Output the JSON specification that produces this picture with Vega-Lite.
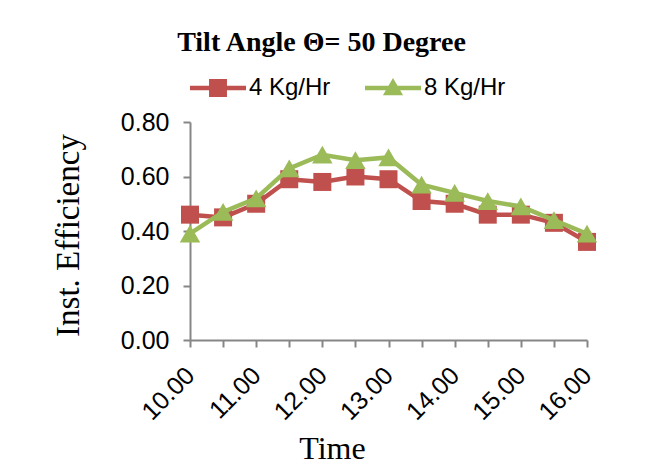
{
  "$schema": "https://vega.github.io/schema/vega-lite/v6.json",
  "width": 397,
  "height": 218,
  "autosize": {"type": "none"},
  "padding": {"left": 190, "top": 122, "right": 81, "bottom": 131},
  "background": "white",
  "config": {"view": {"stroke": null}, "font": "Liberation Sans"},
  "title": {
    "text": "Tilt Angle Θ= 50 Degree",
    "font": "Liberation Serif",
    "fontSize": 28,
    "fontWeight": "bold",
    "color": "black",
    "anchor": "middle",
    "frame": "group",
    "dx": -67,
    "offset": 3
  },
  "data": {
    "values": [
      {"time": 10.0, "series": "4 Kg/Hr", "eff": 0.46},
      {"time": 10.5, "series": "4 Kg/Hr", "eff": 0.45},
      {"time": 11.0, "series": "4 Kg/Hr", "eff": 0.50},
      {"time": 11.5, "series": "4 Kg/Hr", "eff": 0.59},
      {"time": 12.0, "series": "4 Kg/Hr", "eff": 0.58},
      {"time": 12.5, "series": "4 Kg/Hr", "eff": 0.60},
      {"time": 13.0, "series": "4 Kg/Hr", "eff": 0.59},
      {"time": 13.5, "series": "4 Kg/Hr", "eff": 0.51},
      {"time": 14.0, "series": "4 Kg/Hr", "eff": 0.50},
      {"time": 14.5, "series": "4 Kg/Hr", "eff": 0.46},
      {"time": 15.0, "series": "4 Kg/Hr", "eff": 0.46},
      {"time": 15.5, "series": "4 Kg/Hr", "eff": 0.43},
      {"time": 16.0, "series": "4 Kg/Hr", "eff": 0.36},
      {"time": 10.0, "series": "8 Kg/Hr", "eff": 0.39},
      {"time": 10.5, "series": "8 Kg/Hr", "eff": 0.47},
      {"time": 11.0, "series": "8 Kg/Hr", "eff": 0.52},
      {"time": 11.5, "series": "8 Kg/Hr", "eff": 0.63},
      {"time": 12.0, "series": "8 Kg/Hr", "eff": 0.68},
      {"time": 12.5, "series": "8 Kg/Hr", "eff": 0.66},
      {"time": 13.0, "series": "8 Kg/Hr", "eff": 0.67},
      {"time": 13.5, "series": "8 Kg/Hr", "eff": 0.57},
      {"time": 14.0, "series": "8 Kg/Hr", "eff": 0.54},
      {"time": 14.5, "series": "8 Kg/Hr", "eff": 0.51},
      {"time": 15.0, "series": "8 Kg/Hr", "eff": 0.49},
      {"time": 15.5, "series": "8 Kg/Hr", "eff": 0.44},
      {"time": 16.0, "series": "8 Kg/Hr", "eff": 0.39}
    ]
  },
  "encoding": {
    "x": {
      "field": "time",
      "type": "quantitative",
      "scale": {"domain": [10, 16], "nice": false, "zero": false},
      "axis": {
        "title": "Time",
        "titleFont": "Liberation Serif",
        "titleFontSize": 32,
        "titleFontWeight": "normal",
        "titleColor": "black",
        "titleX": 142,
        "titleY": 118,
        "titleAlign": "center",
        "titleBaseline": "alphabetic",
        "values": [10, 10.5, 11, 11.5, 12, 12.5, 13, 13.5, 14, 14.5, 15, 15.5, 16],
        "labelExpr": "datum.value % 1 === 0 ? format(datum.value, '.2f') : ''",
        "labelAngle": -45,
        "labelAlign": "right",
        "labelBaseline": "middle",
        "labelFontSize": 25,
        "labelColor": "black",
        "labelOverlap": false,
        "labelFlush": false,
        "labelPadding": 24,
        "grid": false,
        "domainColor": "#868686",
        "domainWidth": 2,
        "tickColor": "#868686",
        "tickWidth": 2,
        "tickSize": 7
      }
    },
    "y": {
      "field": "eff",
      "type": "quantitative",
      "scale": {"domain": [0, 0.8], "nice": false},
      "axis": {
        "title": "Inst. Efficiency",
        "titleFont": "Liberation Serif",
        "titleFontSize": 33,
        "titleFontWeight": "normal",
        "titleColor": "black",
        "titleX": -122,
        "titleY": 113,
        "titleAlign": "center",
        "titleBaseline": "middle",
        "titleAngle": -90,
        "values": [0, 0.2, 0.4, 0.6, 0.8],
        "format": ".2f",
        "labelFontSize": 25,
        "labelColor": "black",
        "labelPadding": 14,
        "grid": false,
        "domainColor": "#868686",
        "domainWidth": 2,
        "tickColor": "#868686",
        "tickWidth": 2,
        "tickSize": 7
      }
    },
    "color": {
      "field": "series",
      "type": "nominal",
      "scale": {"domain": ["4 Kg/Hr", "8 Kg/Hr"], "range": ["#C0504D", "#9BBB59"]},
      "legend": {
        "title": null,
        "orient": "none",
        "direction": "horizontal",
        "legendX": 0,
        "legendY": -62,
        "padding": 0,
        "symbolSize": 3136,
        "labelFontSize": 24,
        "labelColor": "black",
        "labelOffset": 3,
        "columnPadding": 34,
        "encode": {
          "symbols": {
            "update": {
              "shape": {"signal": "datum.value === '4 Kg/Hr' ? 'M-1,-0.08H1V0.08H-1Z M-0.32,-0.32H0.32V0.32H-0.32Z' : 'M-1,-0.08H1V0.08H-1Z M0,-0.36L0.36,0.26H-0.36Z'"},
              "fill": {"signal": "datum.value === '4 Kg/Hr' ? '#C0504D' : '#9BBB59'"},
              "fillOpacity": {"value": 1},
              "strokeWidth": {"value": 0}
            }
          }
        }
      }
    }
  },
  "layer": [
    {
      "transform": [{"filter": "datum.series === '4 Kg/Hr'"}],
      "mark": {"type": "line", "strokeWidth": 4.5, "point": {"filled": true, "shape": "square", "size": 324, "opacity": 1}}
    },
    {
      "transform": [{"filter": "datum.series === '8 Kg/Hr'"}],
      "mark": {"type": "line", "strokeWidth": 4.5, "point": {"filled": true, "shape": "triangle-up", "size": 420, "opacity": 1}}
    }
  ]
}
